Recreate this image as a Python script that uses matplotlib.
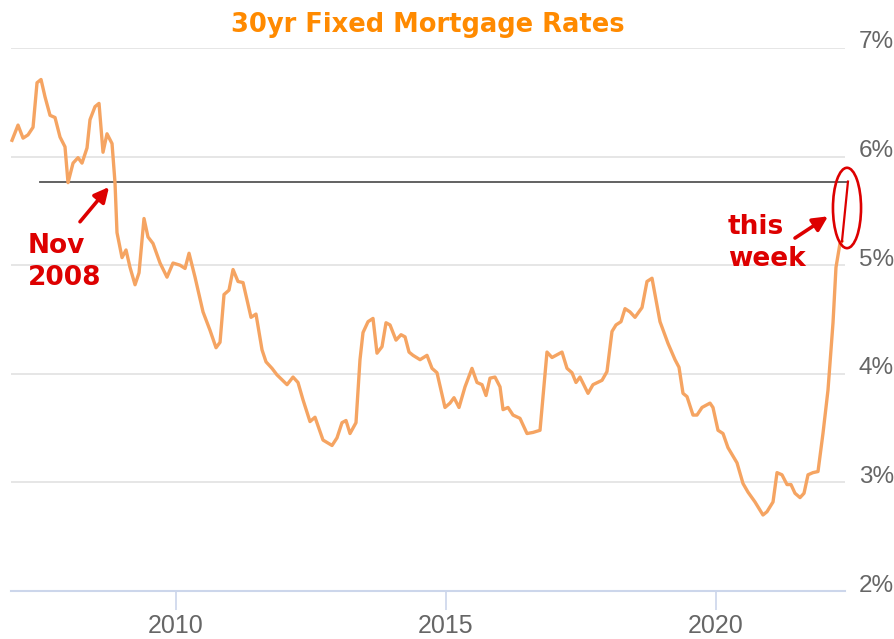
import matplotlib
matplotlib.use("Agg")
import matplotlib.pyplot as plt
import matplotlib.transforms as mtransforms
from matplotlib.patches import Ellipse
from matplotlib import font_manager

# ---------------- data ----------------
years = [2006.963, 2007.074, 2007.167, 2007.259, 2007.352, 2007.426, 2007.500, 2007.574,
         2007.667, 2007.759, 2007.852, 2007.944, 2008.000, 2008.093, 2008.185, 2008.259,
         2008.352, 2008.407, 2008.500, 2008.574, 2008.648, 2008.722, 2008.815, 2008.870,
         2008.907, 2009.000, 2009.074, 2009.148, 2009.241, 2009.315, 2009.407, 2009.481,
         2009.574, 2009.704, 2009.833, 2009.944, 2010.074, 2010.167, 2010.241, 2010.352,
         2010.500, 2010.630, 2010.741, 2010.815, 2010.889, 2010.981, 2011.056, 2011.148,
         2011.241, 2011.389, 2011.481, 2011.593, 2011.667, 2011.778, 2011.870, 2012.056,
         2012.167, 2012.259, 2012.352, 2012.481, 2012.574, 2012.722, 2012.889, 2012.981,
         2013.074, 2013.148, 2013.222, 2013.333, 2013.407, 2013.463, 2013.556, 2013.648,
         2013.722, 2013.815, 2013.889, 2013.963, 2014.074, 2014.167, 2014.241, 2014.315,
         2014.389, 2014.519, 2014.648, 2014.741, 2014.833, 2014.981, 2015.074, 2015.148,
         2015.241, 2015.352, 2015.481, 2015.574, 2015.667, 2015.741, 2015.815, 2015.907,
         2016.000, 2016.056, 2016.148, 2016.241, 2016.370, 2016.500, 2016.611, 2016.741,
         2016.870, 2016.963, 2017.148, 2017.241, 2017.333, 2017.407, 2017.481, 2017.630,
         2017.722, 2017.889, 2017.981, 2018.074, 2018.148, 2018.241, 2018.315, 2018.407,
         2018.500, 2018.630, 2018.722, 2018.815, 2018.889, 2018.963, 2019.111, 2019.241,
         2019.315, 2019.389, 2019.463, 2019.574, 2019.648, 2019.741, 2019.889, 2019.944,
         2020.037, 2020.130, 2020.222, 2020.389, 2020.500, 2020.593, 2020.722, 2020.870,
         2020.944, 2021.056, 2021.130, 2021.222, 2021.315, 2021.389, 2021.463, 2021.556,
         2021.630, 2021.704, 2021.796, 2021.889, 2021.981, 2022.074, 2022.167, 2022.222,
         2022.296, 2022.333, 2022.444]

rates = [6.15, 6.29, 6.17, 6.20, 6.27, 6.68, 6.71, 6.55,
         6.38, 6.36, 6.18, 6.09, 5.76, 5.94, 5.99, 5.94,
         6.08, 6.34, 6.46, 6.49, 6.04, 6.21, 6.12, 5.76,
         5.30, 5.07, 5.14, 4.98, 4.82, 4.93, 5.43, 5.26,
         5.20, 5.02, 4.89, 5.02, 5.00, 4.97, 5.11, 4.89,
         4.57, 4.40, 4.24, 4.29, 4.73, 4.77, 4.96, 4.85,
         4.84, 4.52, 4.55, 4.22, 4.11, 4.05, 3.99, 3.90,
         3.97, 3.92, 3.76, 3.56, 3.60, 3.39, 3.34, 3.41,
         3.55, 3.57, 3.45, 3.55, 4.13, 4.38, 4.48, 4.51,
         4.19, 4.25, 4.47, 4.45, 4.31, 4.36, 4.34, 4.20,
         4.17, 4.13, 4.17, 4.05, 4.01, 3.69, 3.73, 3.78,
         3.69, 3.88, 4.05, 3.92, 3.90, 3.80, 3.96, 3.97,
         3.88, 3.67, 3.69, 3.62, 3.59, 3.45, 3.46, 3.48,
         4.20, 4.15, 4.20, 4.05, 4.01, 3.92, 3.97, 3.82,
         3.90, 3.94, 4.02, 4.39, 4.45, 4.48, 4.60, 4.57,
         4.52, 4.61, 4.85, 4.88, 4.68, 4.48, 4.28, 4.13,
         4.06, 3.82, 3.79, 3.62, 3.62, 3.69, 3.73, 3.69,
         3.48, 3.45, 3.32, 3.18, 2.99, 2.91, 2.82, 2.70,
         2.73, 2.82, 3.09, 3.07, 2.98, 2.98, 2.90, 2.86,
         2.90, 3.07, 3.09, 3.10, 3.45, 3.85, 4.47, 4.98,
         5.20, 5.22, 5.77]

y_ticks = [2, 3, 4, 5, 6, 7]
y_tick_labels = ["2%", "3%", "4%", "5%", "6%", "7%"]
x_ticks = [2010, 2015, 2020]
x_tick_labels = ["2010", "2015", "2020"]
title = "30yr Fixed Mortgage Rates"
note_left = "Nov\n2008"
note_right = "this\nweek"
ref_start = 2007.48  # where the horizontal reference line starts

# ---------------- styling ----------------
ORANGE_LINE = "#F5A462"
TITLE_COLOR = "#FF8A00"
RED = "#DD0000"
GRID = "#e6e6e6"
AXIS = "#ccd6eb"
LABEL = "#666666"

names = {f.name for f in font_manager.fontManager.ttflist}
tick_family = [n for n in ["Liberation Sans Narrow", "DejaVu Sans Condensed", "Liberation Sans"] if n in names] + ["DejaVu Sans"]

W, H = 895, 639
fig = plt.figure(figsize=(W / 100, H / 100), dpi=100)
ax = fig.add_axes([11 / W, 1 - 591 / H, (845 - 11) / W, (591 - 48) / H])

ax.set_xlim(2006.944, 2022.389)
ax.set_ylim(2, 7)

for s in ["top", "left", "right"]:
    ax.spines[s].set_visible(False)
ax.spines["bottom"].set_color(AXIS)
ax.spines["bottom"].set_linewidth(1.5)

ax.set_yticks(y_ticks)
ax.set_yticklabels(y_tick_labels)
ax.yaxis.tick_right()
ax.tick_params(axis="y", length=0, pad=10, labelsize=17.5, labelcolor=LABEL)
ax.set_xticks(x_ticks)
ax.set_xticklabels(x_tick_labels)
ax.tick_params(axis="x", length=14, width=1.2, color=AXIS, direction="out",
               pad=2.5, labelsize=18, labelcolor=LABEL)
for lbl in ax.get_xticklabels() + ax.get_yticklabels():
    lbl.set_family(tick_family)
offset = mtransforms.ScaledTranslation(0, 8 / 100, fig.dpi_scale_trans)
for lbl in ax.get_yticklabels():
    lbl.set_transform(lbl.get_transform() + offset)

ax.yaxis.grid(True, color=GRID, linewidth=1.4)
ax.xaxis.grid(False)
ax.set_axisbelow(True)

# main series (orange), last segment red
ax.plot(years[:-1], rates[:-1], color=ORANGE_LINE, linewidth=2.4,
        solid_joinstyle="round", clip_on=False, zorder=3)
ax.plot(years[-2:], rates[-2:], color=RED, linewidth=1.6, clip_on=False, zorder=4)

# horizontal reference line at this week's rate
ax.plot([ref_start, years[-1]], [rates[-1], rates[-1]], color="#555555",
        linewidth=1.3, clip_on=False, zorder=2)

# ellipse around this week
ell = Ellipse((2022.426, 5.527), width=0.52, height=0.74, fill=False,
              edgecolor=RED, linewidth=1.9, clip_on=False, zorder=5)
ax.add_patch(ell)

arrow_kw = dict(arrowstyle="-|>", color=RED, lw=2.6, mutation_scale=22, shrinkA=0, shrinkB=0)
ax.annotate("", xy=(2008.759, 5.72), xytext=(2008.222, 5.40), arrowprops=arrow_kw, zorder=6)
ax.annotate("", xy=(2022.074, 5.45), xytext=(2021.463, 5.25), arrowprops=arrow_kw,
            annotation_clip=False, zorder=6)

fig.text(28 / W, 1 - 262 / H, note_left, color=RED, fontsize=19, fontweight="bold",
         ha="left", va="center", linespacing=1.3)
fig.text(728 / W, 1 - 243 / H, note_right, color=RED, fontsize=19, fontweight="bold",
         ha="left", va="center", linespacing=1.3)

fig.text(428 / W, 1 - 25 / H, title, color=TITLE_COLOR, fontsize=18.5, fontweight="bold",
         ha="center", va="center")

fig.savefig("out.png", dpi=100, facecolor="white")
